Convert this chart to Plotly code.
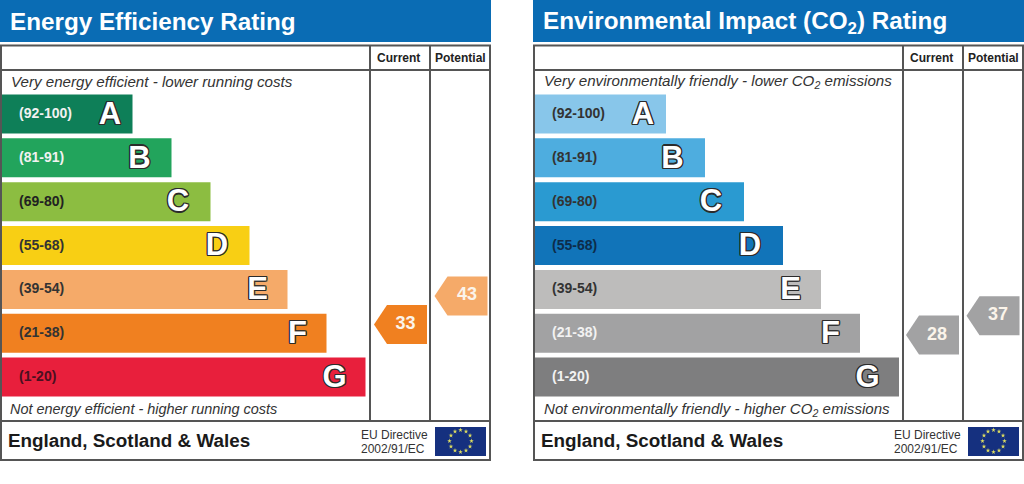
import math
import plotly.graph_objects as go

# ---- data ----
bands = ["(92-100)", "(81-91)", "(69-80)", "(55-68)", "(39-54)", "(21-38)", "(1-20)"]
letters = ["A", "B", "C", "D", "E", "F", "G"]
bar_lengths = [131, 170, 209, 248, 286, 325, 364]
letter_positions = [110, 139.5, 178, 217, 257.5, 297.5, 334.5]
energy_colors = ["#0e7f58", "#22a45c", "#8cbd41", "#f8cf14", "#f5aa69", "#f08020", "#e81f3c"]
env_colors = ["#88c6ea", "#4eaddf", "#2a9ad1", "#1174b9", "#bdbcbb", "#a2a2a3", "#7e7e7f"]
energy_label_colors = ["#f2f2f2", "#f2f2f2", "#222222", "#333333", "#333333", "#333333", "#4a1020"]
env_label_colors = ["#333333", "#333333", "#333333", "#0d2c4a", "#333333", "#f2f2f2", "#f2f2f2"]
energy_current, energy_potential = 33, 43
env_current, env_potential = 28, 37
energy_current_row, energy_potential_row = 4.80, 4.15
env_current_row, env_potential_row = 5.04, 4.60

# ---- geometry helpers ----
W, H = 1024, 484
PANEL_W = 491
OFFSET = 533
ROW0, ROW_STEP, BAR_H = 114, 43.85, 39
FONT = "Liberation Sans"
LINE = "#555555"


def row_y(r):
    return ROW0 + ROW_STEP * r


fig = go.Figure()
shapes, annos = [], []


def add_panel(xa, title, top_note, bottom_note, colors, label_colors, cur, pot, cur_row, pot_row,
              cur_col, pot_col, base, ptr, lab, title_dy, title_size, top_size, bottom_size, bottom_x):
    ys = [row_y(i) for i in range(7)]
    fig.add_trace(go.Bar(x=bar_lengths, y=ys, base=base, width=BAR_H, orientation="h",
                         marker=dict(color=colors, line_width=0), xaxis=xa, yaxis="y", hoverinfo="skip"))
    fig.add_trace(go.Scatter(x=[19] * 7, y=[y + 0.5 for y in ys], text=bands, mode="text", textposition="middle right",
                             textfont=dict(family=FONT, size=14, color=label_colors, weight="bold"),
                             xaxis=xa, yaxis="y", hoverinfo="skip"))
    outline = ",".join(f"{a}px {b}px 0 #2b2b2b" for a, b in
                       [(-1.2, 0), (1.2, 0), (0, -1.2), (0, 1.2), (-1, -1), (1, -1), (-1, 1), (1, 1)])
    fig.add_trace(go.Scatter(x=letter_positions, y=[y + 2 for y in ys], text=letters, mode="text",
                             textposition="middle center",
                             textfont=dict(family=FONT, size=31, color="#ffffff", weight="bold", shadow=outline),
                             xaxis=xa, yaxis="y", hoverinfo="skip"))
    # pentagon pointers
    for score, row, col, x0, x1, lx in [(cur, cur_row, cur_col, ptr[0], ptr[0] + 53, lab[0]),
                                        (pot, pot_row, pot_col, ptr[1], ptr[1] + 53, lab[1])]:
        yc = row_y(row)
        px = [x0, x0 + 13, x1, x1, x0 + 13, x0]
        py = [yc, yc - 19.5, yc - 19.5, yc + 19.5, yc + 19.5, yc]
        fig.add_trace(go.Scatter(x=px, y=py, mode="lines", fill="toself", fillcolor=col, line=dict(width=0),
                                 xaxis=xa, yaxis="y", hoverinfo="skip"))
        fig.add_trace(go.Scatter(x=[lx], y=[yc], text=[str(score)], mode="text", textposition="middle center",
                                 textfont=dict(family=FONT, size=18, color="#fbf4ea", weight="bold"),
                                 xaxis=xa, yaxis="y", hoverinfo="skip"))
    # flag stars
    fx, fy, fr = 460.5, 441, 11
    sx = [fx + fr * math.sin(k * math.pi / 6) for k in range(12)]
    sy = [fy - fr * math.cos(k * math.pi / 6) for k in range(12)]
    # panel furniture
    shapes.append(dict(type="rect", xref=xa, yref="y", x0=0, x1=PANEL_W, y0=0, y1=42, fillcolor="#0a6cb4", line_width=0, layer="below"))
    shapes.append(dict(type="rect", xref=xa, yref="y", x0=1, x1=490, y0=45.5, y1=460, line=dict(color=LINE, width=2), layer="above"))
    for (a, b, c, d) in [(1, 490, 70, 70), (1, 490, 421, 421), (370, 370, 45.5, 421), (430, 430, 45.5, 421)]:
        shapes.append(dict(type="line", xref=xa, yref="y", x0=a, x1=b, y0=c, y1=d, line=dict(color=LINE, width=2), layer="above"))
    shapes.append(dict(type="rect", xref=xa, yref="y", x0=435, x1=486, y0=427, y1=456, fillcolor="#15307f", line_width=0, layer="below"))
    fig.add_trace(go.Scatter(x=sx, y=sy, mode="markers", marker=dict(symbol="star", size=3.5, color="#dcdc60", line_width=0),
                             xaxis=xa, yaxis="y", hoverinfo="skip"))

    def txt(x, y, s, size, color="#222222", weight="normal", style="normal", anchor="left"):
        annos.append(dict(xref=xa, yref="y", x=x, y=y, text=s, showarrow=False, xanchor=anchor, yanchor="middle",
                          font=dict(family=FONT, size=size, color=color, weight=weight, style=style)))

    txt(8, 21 + title_dy, title, title_size, "#ffffff", "bold")
    txt(398.5, 58, "Current", 12, "#222222", "bold", anchor="center")
    txt(460, 58, "Potential", 12, "#222222", "bold", anchor="center")
    txt(8.5, 81.5, top_note, top_size, "#333333", style="italic")
    txt(bottom_x, 409, bottom_note, bottom_size, "#333333", style="italic")
    txt(6, 440, "England, Scotland &amp; Wales", 18.85, "#1a1a1a", "bold")
    txt(359, 434.5, "EU Directive", 12, "#333333")
    txt(359, 448.5, "2002/91/EC", 12, "#333333")


add_panel("x", "Energy Efficiency Rating",
          "Very energy efficient - lower running costs",
          "Not energy efficient - higher running costs",
          energy_colors, energy_label_colors, energy_current, energy_potential,
          energy_current_row, energy_potential_row, energy_colors[5], energy_colors[4],
          1.5, (374, 434.5), (405.5, 467), 0, 24.25, 15.15, 14.45, 7.5)
add_panel("x2", "Environmental Impact (CO<sub>2</sub>) Rating",
          "Very environmentally friendly - lower CO<sub>2</sub> emissions",
          "Not environmentally friendly - higher CO<sub>2</sub> emissions",
          env_colors, env_label_colors, env_current, env_potential,
          env_current_row, env_potential_row, env_colors[5], env_colors[5],
          2, (373, 433.5), (404, 465), 1, 24.25, 15.15, 15.1, 8.5)

hidden = dict(visible=False, fixedrange=True)
fig.update_layout(
    width=W, height=H, margin=dict(l=0, r=0, t=0, b=0), showlegend=False,
    paper_bgcolor="#ffffff", plot_bgcolor="rgba(0,0,0,0)", barmode="overlay",
    xaxis=dict(domain=[0, PANEL_W / W], range=[0, PANEL_W], **hidden),
    xaxis2=dict(domain=[OFFSET / W, (OFFSET + PANEL_W) / W], range=[0, PANEL_W], **hidden),
    yaxis=dict(range=[H, 0], domain=[0, 1], **hidden),
    shapes=shapes, annotations=annos,
)
fig.write_html("out.html", config=dict(displayModeBar=False),
               post_script="document.body.style.margin='0';")
